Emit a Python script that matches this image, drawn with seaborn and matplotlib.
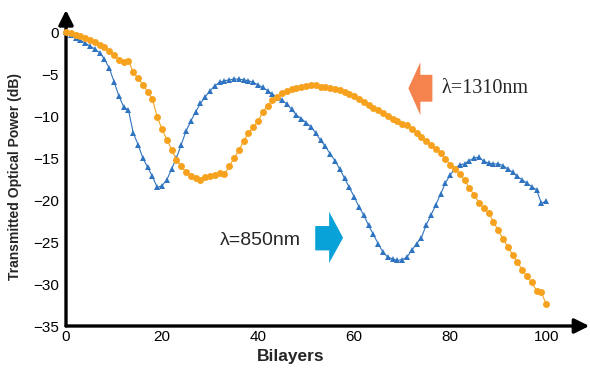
import numpy as np
import pandas as pd
import matplotlib
matplotlib.use("Agg")
import matplotlib.pyplot as plt
from matplotlib.patches import Polygon
import seaborn as sns

# Transmitted optical power (dB) versus number of bilayers
bilayers = list(range(0, 101))

power_850 = [
    0.0, -0.3, -0.7, -1.0, -1.3, -1.7, -2.0, -2.5, -3.2, -4.3,
    -5.9, -7.6, -8.9, -9.3, -12.0, -13.4, -15.0, -16.1, -17.2, -18.5,
    -18.3, -17.6, -16.3, -15.0, -13.4, -11.8, -10.6, -9.5, -8.5, -7.7,
    -7.0, -6.4, -6.0, -5.8, -5.7, -5.6, -5.6, -5.7, -5.8, -6.0,
    -6.3, -6.6, -7.0, -7.4, -7.8, -8.1, -8.6, -9.2, -9.9, -10.3,
    -10.8, -11.3, -12.0, -12.9, -13.6, -14.5, -15.3, -16.3, -17.4, -18.5,
    -19.6, -20.8, -21.8, -23.0, -24.1, -25.2, -26.2, -26.8, -27.0, -27.2,
    -27.1, -26.8, -26.0, -25.2, -24.5, -23.0, -21.8, -20.6, -19.3, -18.0,
    -17.0, -16.3, -15.8, -15.7, -15.3, -15.0, -14.9, -15.4, -15.6, -15.7,
    -15.7, -15.9, -16.3, -16.7, -17.2, -17.6, -18.0, -18.4, -18.8, -20.4,
    -20.1,
]

power_1310 = [
    0.0, -0.1, -0.3, -0.5, -0.7, -0.9, -1.2, -1.5, -1.8, -2.3,
    -2.7, -3.3, -3.6, -3.4, -4.8, -5.5, -6.3, -7.1, -8.0, -10.1,
    -11.6, -12.8, -14.0, -15.2, -16.0, -16.7, -17.1, -17.4, -17.6, -17.3,
    -17.2, -17.0, -16.8, -16.9, -16.0, -15.0, -14.1, -13.0, -12.0, -11.3,
    -10.6, -9.5, -8.8, -8.1, -7.7, -7.3, -7.0, -6.8, -6.7, -6.5,
    -6.4, -6.3, -6.3, -6.5, -6.6, -6.7, -6.8, -6.9, -7.1, -7.4,
    -7.6, -8.0, -8.3, -8.7, -9.0, -9.3, -9.7, -10.0, -10.3, -10.6,
    -10.9, -11.1, -11.5, -12.0, -12.5, -13.0, -13.4, -13.9, -14.4, -15.1,
    -15.8, -16.3, -16.9, -17.6, -18.6, -19.4, -20.3, -21.0, -21.5, -22.6,
    -23.6, -24.6, -25.6, -26.5, -27.4, -28.3, -29.1, -29.8, -30.8, -31.0,
    -32.4,
]

x_ticks = [0, 20, 40, 60, 80, 100]
y_ticks = [0, -5, -10, -15, -20, -25, -30, -35]

df_850 = pd.DataFrame({"Bilayers": bilayers, "Power": power_850})
df_1310 = pd.DataFrame({"Bilayers": bilayers, "Power": power_1310})

sns.set_style("white")
plt.rcParams["font.family"] = ["Liberation Sans", "DejaVu Sans"]

W, H = 590, 368
fig = plt.figure(figsize=(W / 100, H / 100), dpi=100)
ax_l, ax_r, ax_t, ax_b = 66, 575, 11, 326
ax = fig.add_axes([ax_l / W, 1 - ax_b / H, (ax_r - ax_l) / W, (ax_b - ax_t) / H])

blue = "#2F74C0"
orange = "#F7A21E"

sns.lineplot(data=df_850, x="Bilayers", y="Power", ax=ax, color=blue,
             marker="^", markersize=5, markeredgewidth=0, linewidth=0.8,
             clip_on=False, zorder=3)
sns.lineplot(data=df_1310, x="Bilayers", y="Power", ax=ax, color=orange,
             marker="o", markersize=5, markeredgewidth=0, linewidth=0.8,
             clip_on=False, zorder=4)

ax.set_xlim(0, 106)
ax.set_ylim(-35, 2.5)
ax.set_xticks(x_ticks)
ax.set_yticks(y_ticks)
ax.tick_params(axis="both", labelsize=11, colors="black")
ax.tick_params(axis="x", direction="in", length=3, color="#999999", pad=3)
ax.tick_params(axis="y", direction="out", length=3, color="#999999", pad=2)
ax.set_xlabel("")
ax.set_ylabel("")

for s in ["top", "right", "left", "bottom"]:
    ax.spines[s].set_visible(False)

# Axis lines with arrow heads
ax.annotate("", xy=(1.028, 0), xytext=(0, 0), xycoords="axes fraction",
            arrowprops=dict(arrowstyle="-|>", lw=2.4, color="black",
                            mutation_scale=22, shrinkA=0, shrinkB=0))
ax.annotate("", xy=(0, 1.003), xytext=(0, 0), xycoords="axes fraction",
            arrowprops=dict(arrowstyle="-|>", lw=2.4, color="black",
                            mutation_scale=22, shrinkA=0, shrinkB=0))

# Block arrows marking each wavelength
left_arrow = [(71.3, -6.7), (73.8, -3.6), (73.8, -5.1), (76.3, -5.1),
              (76.3, -8.3), (73.8, -8.3), (73.8, -9.9)]
ax.add_patch(Polygon(left_arrow, closed=True, facecolor="#F5834E",
                     edgecolor="none", zorder=5))
right_arrow = [(57.7, -24.5), (54.8, -21.4), (54.8, -23.1), (51.9, -23.1),
               (51.9, -26.0), (54.8, -26.0), (54.8, -27.5)]
ax.add_patch(Polygon(right_arrow, closed=True, facecolor="#08A2D9",
                     edgecolor="none", zorder=5))

ax.text(78.3, -6.7, "λ=1310nm", fontsize=14.5, va="center", ha="left",
        family=["Liberation Serif", "DejaVu Serif"])
ax.text(32.1, -24.8, "λ=850nm", fontsize=14, va="center", ha="left",
        family=["Liberation Sans", "DejaVu Sans"])

fig.text(15 / W, 1 - 176 / H, "Transmitted Optical Power (dB)", rotation=90,
         fontsize=10, fontweight="bold", ha="center", va="center")
fig.text(291 / W, 1 - 356 / H, "Bilayers", fontsize=12.5, fontweight="bold",
         ha="center", va="center")

fig.savefig("out.png", dpi=100)
